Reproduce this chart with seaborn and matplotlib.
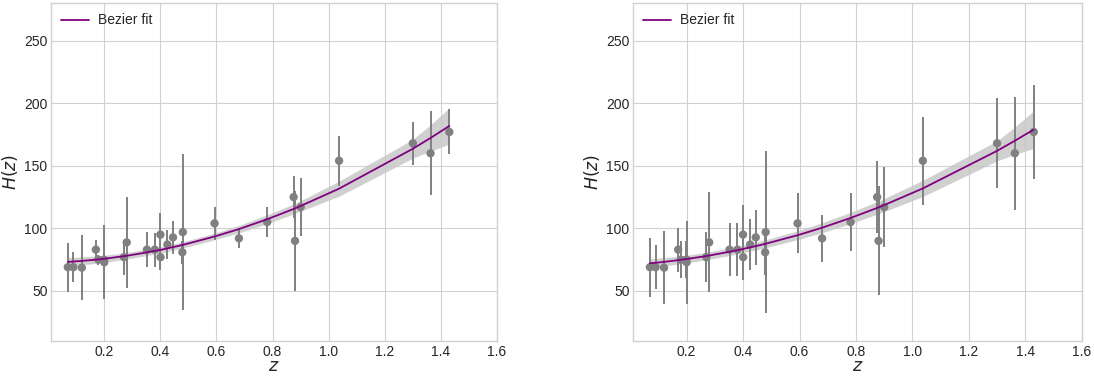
import numpy as np
import pandas as pd
import matplotlib
matplotlib.use("Agg")
import matplotlib.pyplot as plt
import seaborn as sns

# ---- data ----
z = [0.07, 0.09, 0.12, 0.17, 0.179, 0.199, 0.2, 0.27, 0.28, 0.352, 0.38, 0.4, 0.4004,
     0.425, 0.445, 0.4783, 0.48, 0.593, 0.68, 0.781, 0.875, 0.88, 0.9, 1.037, 1.3, 1.363, 1.43]
H = [69, 69, 68.6, 83, 75, 75, 72.9, 77, 88.8, 83, 83, 95, 77,
     87.1, 92.8, 80.9, 97, 104, 92, 105, 125, 90, 117, 154, 168, 160, 177]
err_left = [19.6, 12, 26.2, 8, 4, 5, 29.6, 14, 36.6, 14, 13.5, 17, 10.2,
            11.2, 12.9, 9, 62, 13, 8, 12, 17, 40, 23, 20, 17, 33.6, 18]
err_right = [23.5, 17.7, 29.3, 17.5, 15, 15, 33, 20, 40, 21, 21, 24, 18,
             20, 22, 18, 64.8, 24, 19, 23, 29, 43.5, 32, 35, 36, 45, 37.7]

fit_left = [73.2, 73.5, 74.0, 75.0, 75.2, 75.7, 75.7, 77.8, 78.1, 80.8, 82.0, 82.8, 82.8,
            84.0, 85.0, 86.7, 86.8, 93.5, 99.4, 107.3, 115.5, 116.0, 117.9, 131.7, 163.6, 172.2, 181.8]
sig_left = [3.6, 3.4, 3.2, 2.9, 2.9, 2.8, 2.8, 2.6, 2.6, 2.5, 2.5, 2.5, 2.5,
            2.5, 2.5, 2.5, 2.5, 2.6, 3.0, 3.5, 4.0, 4.0, 4.2, 6.0, 7.5, 10.5, 14.5]
fit_right = [72.1, 72.5, 73.2, 74.6, 74.9, 75.5, 75.5, 77.9, 78.3, 81.3, 82.6, 83.5, 83.6,
             84.8, 85.8, 87.6, 87.7, 94.5, 100.5, 108.3, 116.3, 116.8, 118.6, 131.9, 161.9, 170.0, 178.9]
sig_right = [3.5, 3.4, 3.3, 3.1, 3.1, 3.0, 3.0, 3.0, 3.0, 3.0, 3.0, 3.0, 3.0,
             3.0, 3.1, 3.2, 3.2, 3.5, 4.0, 4.5, 5.0, 5.0, 5.2, 6.5, 8.0, 11.0, 15.0]

sns.set_style("whitegrid", {"grid.color": ".82", "axes.edgecolor": ".82"})
plt.rcParams["font.family"] = ["Liberation Sans", "DejaVu Sans"]
plt.rcParams["mathtext.fontset"] = "dejavusans"

fig = plt.figure(figsize=(10.94, 3.76), dpi=100)
ax1 = fig.add_axes([0.0466, 0.093, 0.4077, 0.899])
ax2 = fig.add_axes([0.5786, 0.093, 0.4102, 0.899])

panels = [(ax1, err_left, fit_left, sig_left), (ax2, err_right, fit_right, sig_right)]
for ax, err, fit, sig in panels:
    df = pd.DataFrame({"z": z, "H": H, "err": err, "fit": fit, "sig": sig})
    ax.fill_between(df["z"], df["fit"] - df["sig"], df["fit"] + df["sig"],
                    color="#c8c8c8", alpha=0.85, linewidth=0, zorder=1)
    ax.errorbar(df["z"], df["H"], yerr=df["err"], fmt="none", ecolor="gray",
                elinewidth=1.4, capsize=0, zorder=2)
    sns.scatterplot(data=df, x="z", y="H", ax=ax, color="gray", s=36,
                    edgecolor="none", zorder=3)
    sns.lineplot(data=df, x="z", y="fit", ax=ax, color="purple", linewidth=1.3,
                 label="Bezier fit", zorder=4)
    ax.set_xlim(0.01, 1.6)
    ax.set_ylim(10, 280)
    ax.set_xticks([0.2, 0.4, 0.6, 0.8, 1.0, 1.2, 1.4, 1.6])
    ax.set_yticks([50, 100, 150, 200, 250])
    ax.tick_params(labelsize=10, colors="#262626", length=0, pad=2.5)
    ax.set_xlabel("$z$", fontsize=12.5, labelpad=0, color="#262626")
    ax.set_ylabel("$H(z)$", fontsize=12.5, labelpad=3, color="#262626")
    leg = ax.legend(loc="upper left", frameon=False, fontsize=10,
                    handlelength=2.0, handletextpad=0.65, borderaxespad=0.35)
    for sp in ax.spines.values():
        sp.set_linewidth(1.0)

fig.savefig("out.png", dpi=100)
